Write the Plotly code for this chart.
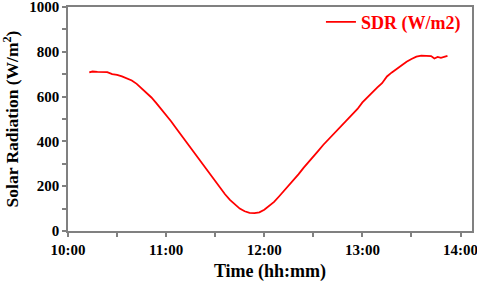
import plotly.graph_objects as go

times = ["10:13","10:15","10:18","10:21","10:24","10:27","10:30","10:33","10:36","10:39",
         "10:42","10:45","10:48","10:51","10:54","10:57","11:00","11:03","11:06","11:09",
         "11:12","11:15","11:18","11:21","11:24","11:27","11:30","11:33","11:36","11:39",
         "11:42","11:45","11:48","11:51","11:54","11:57","12:00","12:03","12:06","12:09",
         "12:12","12:15","12:18","12:21","12:24","12:27","12:30","12:33","12:36","12:39",
         "12:42","12:45","12:48","12:51","12:54","12:57","13:00","13:03","13:06","13:09",
         "13:12","13:15","13:18","13:21","13:24","13:27","13:30","13:33","13:36","13:39",
         "13:42","13:44","13:46","13:48","13:50","13:52"]
sdr = [708,712,710,710,709,700,697,690,682,672,
       657,638,617,596,571,545,517,490,460,430,
       400,372,343,312,282,250,221,191,164,139,
       118,100,88,81,80,83,95,111,130,154,
       178,203,228,254,282,306,332,358,384,407,
       432,457,480,502,523,545,574,597,618,640,
       660,690,708,725,743,756,768,778,783,782,
       781,770,777,773,778,782]
x_ticks = ["10:00","11:00","12:00","13:00","14:00"]

day = "2020-01-01 "
xs = [day + t for t in times]

fig = go.Figure()
fig.add_trace(go.Scatter(x=xs, y=sdr, mode="lines", name="SDR (W/m2)",
                         line=dict(color="#ff0000", width=1.8)))

font_family = "Liberation Serif"
fig.update_layout(
    width=477, height=283,
    margin=dict(l=68, r=5, t=7, b=52, autoexpand=False),
    plot_bgcolor="white", paper_bgcolor="white",
    font=dict(family=font_family, color="black"),
    showlegend=True,
    legend=dict(x=0.985, y=1.015, xanchor="right", yanchor="top", bgcolor="rgba(0,0,0,0)",
                font=dict(family=font_family, size=18, color="#ff0000", weight="bold"),
                itemwidth=30, borderwidth=0),
)
fig.update_xaxes(
    type="date", automargin=False, ticklabeloverflow="allow",
    range=[day + "10:00", day + "14:07"],
    tickvals=[day + t for t in x_ticks], ticktext=x_ticks,
    ticks="outside", ticklen=4, tickcolor="#808080", tickwidth=1.5,
    minor=dict(dtick=1800000, ticks="outside", ticklen=4, tickcolor="#808080", tickwidth=1.5),
    showgrid=False, zeroline=False,
    showline=True, linecolor="#808080", linewidth=1.5, mirror=True,
    tickfont=dict(family=font_family, size=15, color="black", weight="bold"),
    title=dict(text="Time (hh:mm)", font=dict(family=font_family, size=18, color="black", weight="bold"), standoff=8),
)
fig.update_yaxes(
    range=[0, 1000], dtick=200, automargin=False, ticklabeloverflow="allow",
    ticks="outside", ticklen=4, tickcolor="#808080", tickwidth=1.5,
    minor=dict(dtick=100, ticks="outside", ticklen=4, tickcolor="#808080", tickwidth=1.5),
    showgrid=False, zeroline=False,
    showline=True, linecolor="#808080", linewidth=1.5, mirror=True,
    tickfont=dict(family=font_family, size=15, color="black", weight="bold"),
    title=dict(text="Solar Radiation (W/m<sup>2</sup>)", font=dict(family=font_family, size=17.5, color="black", weight="bold"), standoff=6),
)
fig.write_html("out.html", config={"displayModeBar": False},
               post_script="document.body.style.margin='0';document.body.style.overflow='hidden';")
